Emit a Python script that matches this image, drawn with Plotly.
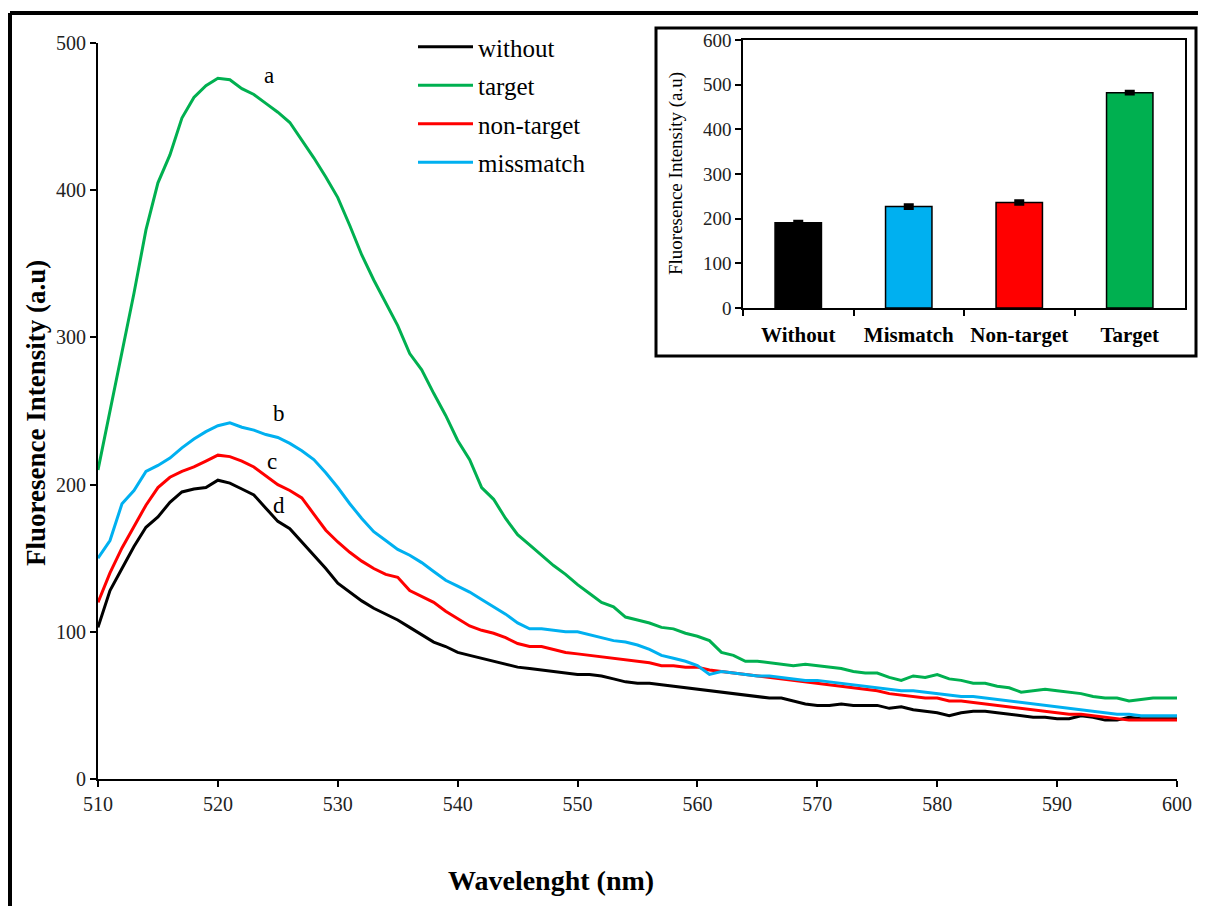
import plotly.graph_objects as go

wavelength = list(range(510, 601))

without = [103, 128, 143, 158, 171, 178, 188, 195, 197, 198,
           203, 201, 197, 193, 184, 175, 170, 161, 152, 143,
           133, 127, 121, 116, 112, 108, 103, 98, 93, 90,
           86, 84, 82, 80, 78, 76, 75, 74, 73, 72,
           71, 71, 70, 68, 66, 65, 65, 64, 63, 62,
           61, 60, 59, 58, 57, 56, 55, 55, 53, 51,
           50, 50, 51, 50, 50, 50, 48, 49, 47, 46,
           45, 43, 45, 46, 46, 45, 44, 43, 42, 42,
           41, 41, 43, 42, 40, 40, 42, 41, 41, 41, 41]

target = [210, 250, 290, 330, 373, 405, 424, 449, 463, 471,
          476, 475, 469, 465, 459, 453, 446, 434, 422, 409,
          395, 376, 356, 339, 323, 308, 289, 278, 262, 247,
          230, 217, 198, 190, 177, 166, 159, 152, 145, 139,
          132, 126, 120, 117, 110, 108, 106, 103, 102, 99,
          97, 94, 86, 84, 80, 80, 79, 78, 77, 78,
          77, 76, 75, 73, 72, 72, 69, 67, 70, 69,
          71, 68, 67, 65, 65, 63, 62, 59, 60, 61,
          60, 59, 58, 56, 55, 55, 53, 54, 55, 55, 55]

non_target = [120, 140, 157, 172, 186, 198, 205, 209, 212, 216,
              220, 219, 216, 212, 206, 200, 196, 191, 180, 169,
              161, 154, 148, 143, 139, 137, 128, 124, 120, 114,
              109, 104, 101, 99, 96, 92, 90, 90, 88, 86,
              85, 84, 83, 82, 81, 80, 79, 77, 77, 76,
              76, 74, 73, 72, 71, 70, 69, 68, 67, 66,
              65, 64, 63, 62, 61, 60, 58, 57, 56, 55,
              55, 53, 53, 52, 51, 50, 49, 48, 47, 46,
              45, 44, 44, 43, 42, 41, 40, 40, 40, 40, 40]

missmatch = [150, 162, 187, 196, 209, 213, 218, 225, 231, 236,
             240, 242, 239, 237, 234, 232, 228, 223, 217, 208,
             198, 187, 177, 168, 162, 156, 152, 147, 141, 135,
             131, 127, 122, 117, 112, 106, 102, 102, 101, 100,
             100, 98, 96, 94, 93, 91, 88, 84, 82, 80,
             77, 71, 73, 72, 71, 70, 70, 69, 68, 67,
             67, 66, 65, 64, 63, 62, 61, 60, 60, 59,
             58, 57, 56, 56, 55, 54, 53, 52, 51, 50,
             49, 48, 47, 46, 45, 44, 44, 43, 43, 43, 43]

bar_categories = ["Without", "Mismatch", "Non-target", "Target"]
bar_values = [191, 227, 236, 482]
bar_errors = [3, 4, 4, 3]

x_ticks = list(range(510, 601, 10))
y_ticks = list(range(0, 501, 100))
inset_y_ticks = list(range(0, 601, 100))

BLACK = "#000000"
GREEN = "#00B050"
RED = "#FF0000"
BLUE = "#00B0F0"
SERIF = "Liberation Serif"
TICKC = "#222222"

fig = go.Figure()

series = [("without", without, BLACK), ("target", target, GREEN),
          ("non-target", non_target, RED), ("missmatch", missmatch, BLUE)]
for name, vals, col in series:
    fig.add_trace(go.Scatter(x=wavelength, y=vals, mode="lines", name=name,
                             legendgroup=name,
                             line=dict(color=col, width=3),
                             xaxis="x", yaxis="y"))

fig.add_trace(go.Bar(x=bar_categories, y=bar_values,
                     marker=dict(color=[BLACK, BLUE, RED, GREEN],
                                 line=dict(color=BLACK, width=1.5)),
                     width=0.42,
                     error_y=dict(type="data", array=bar_errors, color=BLACK,
                                  thickness=3, width=5),
                     showlegend=False, xaxis="x2", yaxis="y2"))

# figure sits at (8, 8) in the page (body margin); helpers take page pixels
W, H = 1190, 898
L, R, T, B = 90, 10, 12, 127
PW, PH = W - L - R, H - T - B
OFF = 8
def px(x):
    return (x - OFF - L) / PW
def py(y):
    return (H - B - (y - OFF)) / PH

fig.update_layout(
    width=W, height=H, autosize=False,
    margin=dict(l=L, r=R, t=T, b=B, autoexpand=False),
    paper_bgcolor="white", plot_bgcolor="white",
    font=dict(family=SERIF, color=TICKC),
    xaxis=dict(domain=[0, px(1177)], range=[510, 600], tickvals=x_ticks,
               automargin=False,
               showline=True, linecolor=BLACK, linewidth=2,
               ticks="outside", ticklen=6, tickwidth=2, tickcolor=BLACK,
               showgrid=False, zeroline=False,
               tickfont=dict(size=20, family=SERIF, color=TICKC)),
    yaxis=dict(domain=[0, py(43)], range=[0, 500], tickvals=y_ticks,
               automargin=False,
               showline=True, linecolor=BLACK, linewidth=2,
               ticks="outside", ticklen=6, tickwidth=2, tickcolor=BLACK,
               showgrid=False, zeroline=False,
               tickfont=dict(size=20, family=SERIF, color=TICKC)),
    xaxis2=dict(domain=[px(743), px(1185)], anchor="y2", type="category",
                automargin=False,
                range=[-0.5, 3.5], tickson="boundaries",
                showline=True, linecolor=BLACK, linewidth=1.5, mirror=True,
                ticks="outside", ticklen=6, tickwidth=1.5, tickcolor=BLACK,
                ticklabelstandoff=7,
                showgrid=False, zeroline=False,
                tickfont=dict(size=21, family=SERIF, color=BLACK),
                tickprefix="<b>", ticksuffix="</b>"),
    yaxis2=dict(domain=[py(308), py(40)], anchor="x2", range=[0, 600],
                automargin=False,
                tickvals=inset_y_ticks,
                showline=True, linecolor=BLACK, linewidth=1.5, mirror=True,
                ticks="outside", ticklen=6, tickwidth=1.5, tickcolor=BLACK,
                showgrid=False, zeroline=False,
                tickfont=dict(size=19, family=SERIF, color=TICKC)),
    legend=dict(x=px(413), y=py(24), xanchor="left", yanchor="top",
                bgcolor="rgba(0,0,0,0)", tracegroupgap=3, itemwidth=55,
                font=dict(size=25, family=SERIF, color=BLACK)),
    showlegend=True,
    shapes=[
        dict(type="rect", xref="paper", yref="paper",
             x0=px(656), x1=px(1196), y0=py(356), y1=py(28),
             line=dict(color=BLACK, width=3), fillcolor="rgba(0,0,0,0)", layer="above"),
        dict(type="line", xref="paper", yref="paper",
             x0=px(10), x1=px(1215), y0=py(13), y1=py(13),
             line=dict(color=BLACK, width=4)),
        dict(type="line", xref="paper", yref="paper",
             x0=px(10), x1=px(10), y0=py(13), y1=py(925),
             line=dict(color=BLACK, width=4)),
    ],
    annotations=[
        dict(text="a", x=524.3, y=478, xref="x", yref="y", showarrow=False,
             font=dict(size=23, family=SERIF, color=BLACK)),
        dict(text="b", x=525.1, y=248, xref="x", yref="y", showarrow=False,
             font=dict(size=23, family=SERIF, color=BLACK)),
        dict(text="c", x=524.5, y=216, xref="x", yref="y", showarrow=False,
             font=dict(size=23, family=SERIF, color=BLACK)),
        dict(text="d", x=525.1, y=186, xref="x", yref="y", showarrow=False,
             font=dict(size=23, family=SERIF, color=BLACK)),
        dict(text="<b>Wavelenght (nm)</b>", x=px(551), y=py(880),
             xref="paper", yref="paper", showarrow=False,
             xanchor="center", yanchor="middle",
             font=dict(size=28, family=SERIF, color=BLACK)),
        dict(text="<b>Fluoresence Intensity (a.u)</b>", x=px(36), y=py(413),
             xref="paper", yref="paper", showarrow=False, textangle=-90,
             xanchor="center", yanchor="middle",
             font=dict(size=27, family=SERIF, color=BLACK)),
        dict(text="Fluoresence Intensity (a.u)", x=px(676), y=py(174),
             xref="paper", yref="paper", showarrow=False, textangle=-90,
             xanchor="center", yanchor="middle",
             font=dict(size=19, family=SERIF, color=BLACK)),
    ],
)

fig.write_html("out.html", config={"responsive": False})
